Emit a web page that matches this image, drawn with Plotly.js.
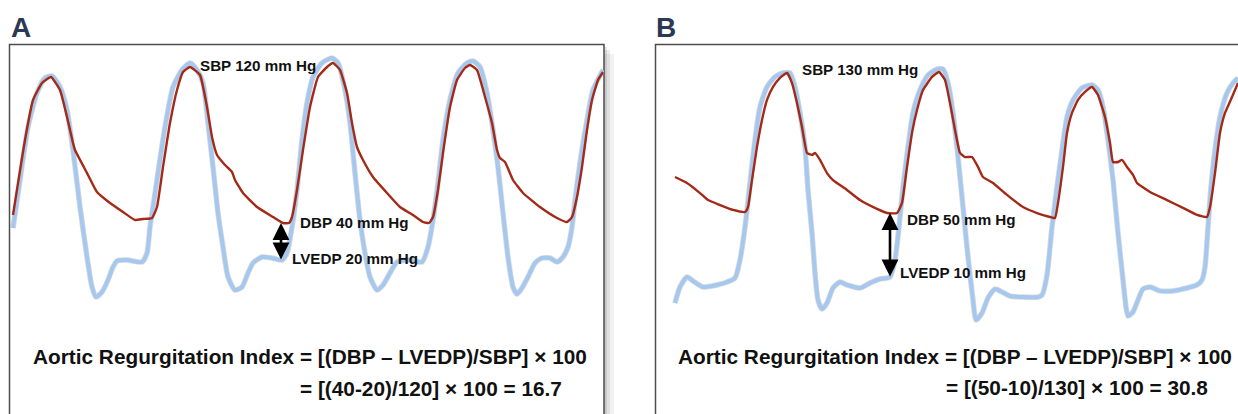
<!DOCTYPE html>
<html>
<head>
<meta charset="utf-8">
<script src="https://cdn.plot.ly/plotly-3.0.1.min.js"></script>
<style>html,body{margin:0;padding:0;background:#fff;}#chart{width:1238px;height:414px;}</style>
</head>
<body>
<div id="chart"></div>
<script>
// ---------- Panel A (time in arbitrary units, pressure in mm Hg) ----------
const aoTimeA = [4,16,24,33,42,51,58,64,66,78,88,101,114,126,134,143,148,154,161,168,174,181,191,198,203,208,216,223,226,234,248,264,274,280,283,288,294,301,309,318,324,331,338,343,348,354,364,378,391,404,414,420,424,429,434,441,448,456,461,468,476,483,488,491,496,504,514,531,548,558,563,568,573,578,583,589,594];
const aoPresA = [44,81.5,101.5,110,113,106.5,93,80,76.5,65,55.5,50,45.5,41.5,42,42.5,48,68,90,106.5,115.5,118,114,98,83,74,69,65.5,61.5,55,48,43,40,40,43,56.5,76.5,98,113,118,120,116.5,105,90,78,71.5,63,55,48,44,40.5,40,43,56.5,75,98,111.5,117.5,119,116.5,103,90,76.5,72.5,70.5,61.5,55,48,42.5,40.5,43,53,68,86.5,101.5,111.5,115.5];
const lvTimeA = [4,11,19,28,36,43,51,58,64,71,78,83,87,93,99,104,108,118,133,138,141,144,149,156,164,173,181,188,194,199,204,209,214,219,226,233,239,244,253,263,273,278,283,288,293,298,304,313,323,329,336,341,346,351,356,361,368,374,381,388,401,413,419,424,429,434,441,449,458,464,471,478,484,489,494,499,504,508,513,519,526,533,541,548,554,559,563,566,571,578,584,594];
const lvPresA = [37.5,61.5,88,105,112.5,113.5,108,96.5,76.5,48,23,8,3,5.5,11.5,18,21,21.5,20.5,25,38,48,65,88,108,116.5,120,116.5,110,90,68,45,28,13,6.5,8,15,20,23,22.5,21.5,25,38,56.5,81.5,100,113,120,122.5,120,106.5,90,65,41.5,25,13,6.5,9,15,20.5,21.5,20.5,28,41.5,60,81.5,101.5,115,120,121,118,105,86.5,68,45,23,8,4.5,7.5,13,20,22.5,22.5,20.5,23,28,38,51.5,70,91.5,106.5,116.5];

// ---------- Panel B ----------
const aoTimeB = [20,32,45,53,65,78,90,93,97,102,107,112,118,125,132,137,142,147,152,157,160,165,172,178,192,205,222,232,242,247,252,257,262,268,277,284,290,295,300,305,310,317,323,328,338,352,368,382,395,400,403,408,412,417,423,430,437,443,450,455,458,463,467,472,478,482,495,512,528,542,552,555,560,565,570,577,583];
const aoPresB = [68.5,65,59.1,55,52.1,49.2,48,50.9,66.7,86.1,101.9,113.6,121.2,126.5,129.4,123.5,111.8,97.8,82.6,81.4,82.6,78.5,70.8,66.7,60.9,55,49.8,47.4,47.4,53.3,74.4,94.3,107.7,119.4,127.1,130,125.3,111.8,96,82.6,80.2,80.2,74.4,68.5,65,58,50.9,47.4,45.1,44.5,53.3,74.4,94.3,106,113.6,118.3,121.2,116.5,103.6,88.4,77.3,77.3,78.5,74.4,69.7,65,59.7,55,50.4,46.3,45.1,50.9,70.8,94.3,106,115.3,123.5];
const lvTimeB = [20,25,32,38,48,62,72,80,85,90,95,100,105,112,120,128,135,140,145,150,153,157,160,163,167,172,178,185,192,205,215,225,235,240,244,248,253,258,265,273,282,288,293,298,303,308,313,318,321,327,333,340,347,355,368,383,387,392,397,402,407,412,418,427,437,443,448,453,458,463,468,471,473,478,483,488,495,505,518,532,542,547,550,553,556,560,565,572,578,583];
const lvPresB = [-5.3,4.1,10,7.6,4.1,5.3,7,9.4,19.9,39.2,65,90.2,109.5,121.2,127.1,129.4,129.4,121.2,106,86.1,60.9,35.7,12.3,-3.5,-8.8,-5.3,3.5,7,5.3,3.5,6.4,8.8,10,19.9,39.2,62.6,86.1,106,119.4,128.2,131.7,131.7,123.5,106,80.2,50.9,21.7,-3.5,-15.2,-11.1,-2.3,2.9,1.2,-1.2,-1.8,-1.8,-0.6,11.1,39.2,62.6,84.3,103.6,113.6,120.6,122.4,119.4,109.5,90.2,66.7,35.7,8.2,-7.6,-12.9,-10.5,-3.5,2.9,4.1,1.8,1.8,3.5,5.3,8.2,15.8,39.2,62.6,84.3,103.6,117.7,123.5,126.5];

// ---------- Labels ----------
const panelLabels = ["A", "B"];
const sbpLabels = ["SBP 120 mm Hg", "SBP 130 mm Hg"];
const dbpLabels = ["DBP 40 mm Hg", "DBP 50 mm Hg"];
const lvedpLabels = ["LVEDP 20 mm Hg", "LVEDP 10 mm Hg"];
const formulaLine1 = "Aortic Regurgitation Index = [(DBP \u2013 LVEDP)/SBP] \u00d7 100";
const formulaLine2 = ["= [(40-20)/120] \u00d7 100 = 16.7", "= [(50-10)/130] \u00d7 100 = 30.8"];
// arrow ends (mm Hg) and their time position
const arrowTime = [272, 235];
const arrowTop = [40, 47.4];
const arrowBottom = [21, 9.4];

// ---------- Styling ----------
const RED = '#a42a18';
const BLUE = '#a7c8ee';
const FONT = 'Liberation Sans, Arial, Helvetica, sans-serif';
const W = 1238, H = 414;
const px = v => v / W;
const py = v => 1 - v / H;

function lv(x, y, xa, ya) {
  return [
    {x: x, y: y, xaxis: xa, yaxis: ya, mode: 'lines', line: {color: 'rgba(120,130,145,0.3)', width: 5.5, shape: 'spline', smoothing: 0.6}, hoverinfo: 'skip'},
    {x: x, y: y, xaxis: xa, yaxis: ya, mode: 'lines', line: {color: BLUE, width: 4, shape: 'spline', smoothing: 0.6}, hoverinfo: 'skip'}
  ];
}
function ao(x, y, xa, ya) {
  return {x: x, y: y, xaxis: xa, yaxis: ya, mode: 'lines', line: {color: RED, width: 2.4, shape: 'spline', smoothing: 0.4}, hoverinfo: 'skip'};
}

const data = [].concat(
  lv(lvTimeA, lvPresA, 'x', 'y'), [ao(aoTimeA, aoPresA, 'x', 'y')],
  lv(lvTimeB, lvPresB, 'x2', 'y2'), [ao(aoTimeB, aoPresB, 'x2', 'y2')]
);

const axisOff = {showgrid: false, zeroline: false, showticklabels: false, showline: false, ticks: '', fixedrange: true};

function txt(text, xref, yref, x, y, size, anchor) {
  return {text: '<b>' + text + '</b>', xref: xref, yref: yref, x: x, y: y, xanchor: anchor || 'left', yanchor: 'middle',
          showarrow: false, font: {family: FONT, size: size, color: '#111'}, borderpad: 0};
}
function arrow(xref, yref, t, top, bottom) {
  return {text: '', xref: xref, yref: yref, x: t, y: top, axref: xref, ayref: yref, ax: t, ay: bottom,
          showarrow: true, arrowside: 'end+start', arrowhead: 2, startarrowhead: 2, arrowsize: 1.3, startarrowsize: 1.3,
          arrowwidth: 2.6, arrowcolor: '#000', standoff: 0, startstandoff: 0};
}

const LBL = 15.2, FRM = 20.8;
const annotations = [
  // panel letters
  {text: '<b>' + panelLabels[0] + '</b>', xref: 'paper', yref: 'paper', x: px(21), y: py(28), xanchor: 'center', yanchor: 'middle', showarrow: false, font: {family: FONT, size: 28, color: '#2b3856'}},
  {text: '<b>' + panelLabels[1] + '</b>', xref: 'paper', yref: 'paper', x: px(666), y: py(28), xanchor: 'center', yanchor: 'middle', showarrow: false, font: {family: FONT, size: 28, color: '#2b3856'}},
  // panel A
  txt(sbpLabels[0], 'x', 'y', 190, 119, LBL),
  txt(dbpLabels[0], 'x', 'y', 290, 40.5, LBL),
  txt(lvedpLabels[0], 'x', 'y', 282, 22.5, LBL),
  arrow('x', 'y', arrowTime[0], arrowTop[0], arrowBottom[0]),
  txt(formulaLine1, 'x', 'y', 23, -26.5, FRM),
  txt(formulaLine2[0], 'x', 'y', 290, -42.5, FRM),
  // panel B
  txt(sbpLabels[1], 'x2', 'y2', 146, 131.7, LBL),
  txt(dbpLabels[1], 'x2', 'y2', 251, 43.5, LBL),
  txt(lvedpLabels[1], 'x2', 'y2', 244, 12.3, LBL),
  arrow('x2', 'y2', arrowTime[1], arrowTop[1], arrowBottom[1]),
  txt(formulaLine1, 'x2', 'y2', 22, -36.3, FRM),
  txt(formulaLine2[1], 'x2', 'y2', 290, -55, FRM)
];

const shapes = [
  // shadow of panel A box
  {type: 'rect', xref: 'paper', yref: 'paper', x0: px(604), x1: px(614), y0: -0.1, y1: py(54), fillcolor: 'rgba(0,0,0,0.05)', line: {width: 0}, layer: 'below'},
  {type: 'rect', xref: 'paper', yref: 'paper', x0: px(604), x1: px(610), y0: -0.1, y1: py(50), fillcolor: 'rgba(0,0,0,0.07)', line: {width: 0}, layer: 'below'},
  {type: 'rect', xref: 'paper', yref: 'paper', x0: px(604), x1: px(607), y0: -0.1, y1: py(47), fillcolor: 'rgba(0,0,0,0.10)', line: {width: 0}, layer: 'below'},
  // panel boxes
  {type: 'rect', xref: 'paper', yref: 'paper', x0: px(9.5), x1: px(604), y0: -0.1, y1: py(44.5), fillcolor: '#fff', line: {color: '#4d4d4d', width: 1.5}, layer: 'below'},
  {type: 'rect', xref: 'paper', yref: 'paper', x0: px(655.5), x1: 1.1, y0: -0.1, y1: py(44.5), fillcolor: '#fff', line: {color: '#4d4d4d', width: 1.5}, layer: 'below'}
];

const layout = {
  width: W, height: H,
  margin: {l: 0, r: 0, t: 0, b: 0},
  paper_bgcolor: '#fff', plot_bgcolor: 'rgba(0,0,0,0)',
  showlegend: false,
  xaxis: Object.assign({domain: [px(9), px(604)], range: [0, 595]}, axisOff),
  yaxis: Object.assign({domain: [0, py(44)], range: [-55.5, 129.5]}, axisOff),
  xaxis2: Object.assign({domain: [px(655), 1], range: [0, 583], anchor: 'y2'}, axisOff),
  yaxis2: Object.assign({domain: [0, py(44)], range: [-70.26, 146.37], anchor: 'x2'}, axisOff),
  annotations: annotations,
  shapes: shapes
};

Plotly.newPlot('chart', data, layout, {staticPlot: true, displayModeBar: false});
</script>
</body>
</html>
